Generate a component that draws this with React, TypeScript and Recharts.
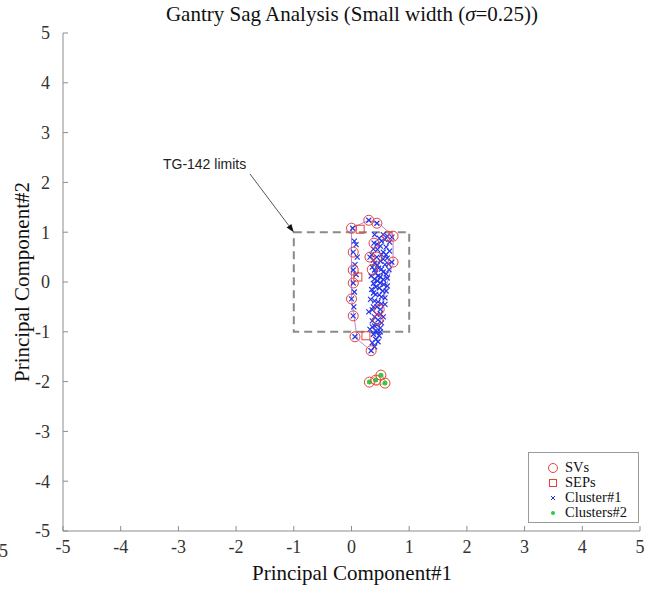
import React from "react";
import {
  ScatterChart,
  Scatter,
  XAxis,
  YAxis,
  ReferenceArea,
  ReferenceLine,
} from "recharts";

const xTicks = [-5, -4, -3, -2, -1, 0, 1, 2, 3, 4, 5];
const yTicks = [-5, -4, -3, -2, -1, 0, 1, 2, 3, 4, 5];

const supportVectors = [
  { x: 0.0, y: 1.08 }, { x: 0.3, y: 1.24 }, { x: 0.44, y: 1.18 }, { x: 0.63, y: 0.92 },
  { x: 0.72, y: 0.92 }, { x: 0.39, y: 0.78 }, { x: 0.03, y: 0.6 }, { x: 0.32, y: 0.5 },
  { x: 0.44, y: 0.5 }, { x: 0.72, y: 0.4 }, { x: 0.03, y: 0.24 }, { x: 0.36, y: 0.25 },
  { x: 0.03, y: -0.02 }, { x: 0.0, y: -0.34 }, { x: 0.03, y: -0.68 }, { x: 0.48, y: -0.55 },
  { x: 0.46, y: -0.76 }, { x: 0.06, y: -1.1 }, { x: 0.34, y: -1.38 },
  { x: 0.31, y: -2.01 }, { x: 0.42, y: -1.97 }, { x: 0.51, y: -1.87 }, { x: 0.58, y: -2.03 },
];

const seps = [
  { x: 0.15, y: 1.06 }, { x: 0.11, y: 0.1 }, { x: 0.25, y: -1.08 },
];

const cluster1 = [
  { x: 0.02, y: 1.08 }, { x: 0.05, y: 0.82 }, { x: 0.08, y: 0.75 }, { x: 0.03, y: 0.6 },
  { x: 0.06, y: 0.35 }, { x: 0.03, y: 0.24 }, { x: 0.08, y: 0.15 }, { x: 0.03, y: -0.02 },
  { x: 0.05, y: -0.2 }, { x: 0.0, y: -0.34 }, { x: 0.04, y: -0.5 }, { x: 0.03, y: -0.68 },
  { x: 0.06, y: -1.1 }, { x: 0.3, y: 1.24 }, { x: 0.44, y: 1.18 }, { x: 0.1, y: 0.5 },
  { x: 0.4, y: 0.95 }, { x: 0.55, y: 0.95 }, { x: 0.62, y: 0.92 }, { x: 0.7, y: 0.9 },
  { x: 0.48, y: 0.88 }, { x: 0.58, y: 0.85 }, { x: 0.66, y: 0.8 }, { x: 0.39, y: 0.78 },
  { x: 0.5, y: 0.72 }, { x: 0.6, y: 0.7 }, { x: 0.45, y: 0.65 }, { x: 0.55, y: 0.6 },
  { x: 0.35, y: 0.55 }, { x: 0.32, y: 0.5 }, { x: 0.44, y: 0.5 }, { x: 0.62, y: 0.48 },
  { x: 0.7, y: 0.4 }, { x: 0.5, y: 0.42 }, { x: 0.4, y: 0.38 }, { x: 0.58, y: 0.35 },
  { x: 0.36, y: 0.3 }, { x: 0.47, y: 0.28 }, { x: 0.65, y: 0.25 }, { x: 0.55, y: 0.2 },
  { x: 0.42, y: 0.18 }, { x: 0.34, y: 0.12 }, { x: 0.5, y: 0.1 }, { x: 0.62, y: 0.08 },
  { x: 0.45, y: 0.02 }, { x: 0.38, y: -0.03 }, { x: 0.56, y: -0.05 }, { x: 0.48, y: -0.12 },
  { x: 0.35, y: -0.15 }, { x: 0.6, y: -0.18 }, { x: 0.42, y: -0.25 }, { x: 0.52, y: -0.3 },
  { x: 0.33, y: -0.35 }, { x: 0.46, y: -0.4 }, { x: 0.58, y: -0.45 }, { x: 0.38, y: -0.5 },
  { x: 0.5, y: -0.55 }, { x: 0.3, y: -0.6 }, { x: 0.44, y: -0.65 }, { x: 0.55, y: -0.7 },
  { x: 0.36, y: -0.78 }, { x: 0.46, y: -0.76 }, { x: 0.4, y: -0.88 }, { x: 0.5, y: -0.92 },
  { x: 0.32, y: -0.95 }, { x: 0.45, y: -1.0 }, { x: 0.38, y: -1.05 }, { x: 0.48, y: -1.08 },
  { x: 0.42, y: -1.15 }, { x: 0.36, y: -1.22 }, { x: 0.34, y: -1.38 },
  { x: 0.52, y: 0.82 }, { x: 0.44, y: 0.76 }, { x: 0.66, y: 0.62 }, { x: 0.38, y: 0.66 },
  { x: 0.52, y: 0.55 }, { x: 0.6, y: 0.55 }, { x: 0.38, y: 0.44 }, { x: 0.55, y: 0.46 },
  { x: 0.64, y: 0.36 }, { x: 0.45, y: 0.34 }, { x: 0.52, y: 0.26 }, { x: 0.4, y: 0.24 },
  { x: 0.6, y: 0.16 }, { x: 0.46, y: 0.12 }, { x: 0.55, y: 0.05 }, { x: 0.4, y: 0.06 },
  { x: 0.5, y: -0.02 }, { x: 0.62, y: -0.08 }, { x: 0.42, y: -0.1 }, { x: 0.54, y: -0.18 },
  { x: 0.38, y: -0.22 }, { x: 0.48, y: -0.26 }, { x: 0.58, y: -0.32 }, { x: 0.4, y: -0.38 },
  { x: 0.52, y: -0.44 }, { x: 0.44, y: -0.5 }, { x: 0.36, y: -0.56 }, { x: 0.5, y: -0.64 },
  { x: 0.4, y: -0.7 }, { x: 0.52, y: -0.82 }, { x: 0.44, y: -0.86 }, { x: 0.36, y: -0.9 },
  { x: 0.5, y: -1.0 }, { x: 0.42, y: -0.98 }, { x: 0.46, y: -1.2 }, { x: 0.4, y: -1.3 },
];

const cluster2 = [
  { x: 0.31, y: -2.01 }, { x: 0.42, y: -1.97 }, { x: 0.51, y: -1.87 }, { x: 0.58, y: -2.03 },
];

// decision boundary outlines
const contourMain = [
  { x: 0.0, y: 1.08 }, { x: 0.3, y: 1.24 }, { x: 0.5, y: 1.15 }, { x: 0.72, y: 0.92 },
  { x: 0.72, y: 0.4 }, { x: 0.6, y: -0.1 }, { x: 0.5, y: -0.76 }, { x: 0.45, y: -1.2 },
  { x: 0.34, y: -1.38 }, { x: 0.1, y: -1.15 }, { x: 0.0, y: -0.34 }, { x: 0.0, y: 1.08 },
];
const contourSmall = [
  { x: 0.3, y: -2.0 }, { x: 0.4, y: -1.9 }, { x: 0.52, y: -1.84 }, { x: 0.6, y: -2.03 },
  { x: 0.45, y: -2.07 }, { x: 0.3, y: -2.0 },
];

const SERIF = "'Liberation Serif', 'Times New Roman', serif";
const RED = "#e8403a";
const BLUE = "#2433e8";
const GREEN = "#2ecc40";
const AXIS = "#8c8c8c";

const Circle = ({ cx, cy }: any) => (
  <circle cx={cx} cy={cy} r={5} fill="none" stroke={RED} strokeWidth={1} />
);
const Square = ({ cx, cy }: any) => (
  <rect x={cx - 4} y={cy - 4} width={8} height={8} fill="none" stroke={RED} strokeWidth={1} />
);
const Cross = ({ cx, cy }: any) => (
  <path d={`M${cx - 2.5},${cy - 2.5}L${cx + 2.5},${cy + 2.5}M${cx - 2.5},${cy + 2.5}L${cx + 2.5},${cy - 2.5}`} stroke={BLUE} strokeWidth={1.2} />
);
const Dot = ({ cx, cy }: any) => <circle cx={cx} cy={cy} r={2.5} fill={GREEN} />;
const NoShape = () => <g />;

const Arrow = ({ x1, y1, x2, y2 }: any) => {
  const a = Math.atan2(y2 - y1, x2 - x1);
  const L = 8, W = 3;
  const bx = x2 - L * Math.cos(a), by = y2 - L * Math.sin(a);
  const px = -Math.sin(a) * W, py = Math.cos(a) * W;
  return (
    <g>
      <line x1={x1} y1={y1} x2={bx} y2={by} stroke="#555" strokeWidth={1} />
      <polygon points={`${x2},${y2} ${bx + px},${by + py} ${bx - px},${by - py}`} fill="#111" />
      <text x={x1 - 87} y={y1 - 5} fontFamily="'Liberation Sans', Arial, sans-serif" fontSize={14} fill="#222">
        TG-142 limits
      </text>
    </g>
  );
};

const legendItems = [
  { label: "SVs", kind: "circle" },
  { label: "SEPs", kind: "square" },
  { label: "Cluster#1", kind: "cross" },
  { label: "Clusters#2", kind: "dot" },
];

function LegendSymbol({ kind }: { kind: string }) {
  return (
    <svg width={12} height={12} style={{ marginRight: 6 }}>
      {kind === "circle" && <circle cx={6} cy={6} r={4.5} fill="none" stroke={RED} />}
      {kind === "square" && <rect x={2.5} y={2.5} width={7} height={7} fill="none" stroke={RED} />}
      {kind === "cross" && <path d="M4,4L8,8M4,8L8,4" stroke={BLUE} />}
      {kind === "dot" && <circle cx={6} cy={6} r={2} fill={GREEN} />}
    </svg>
  );
}

export default function App() {
  return (
    <div style={{ position: "absolute", left: 0, top: 0, width: 653, height: 595, background: "#fff", fontFamily: SERIF }}>
      <div style={{ position: "absolute", left: 51, width: 602, top: 2, textAlign: "center", fontSize: 21, color: "#111" }}>
        Gantry Sag Analysis (Small width (<i>σ</i>=0.25))
      </div>
      <div style={{ position: "absolute", left: 51, width: 602, top: 561, textAlign: "center", fontSize: 21, color: "#111" }}>
        Principal Component#1
      </div>
      <div
        style={{
          position: "absolute", left: 22, top: 282, fontSize: 21, color: "#111", whiteSpace: "nowrap",
          transform: "translate(-50%, -50%) rotate(-90deg)",
        }}
      >
        Principal Component#2
      </div>
      <div style={{ position: "absolute", right: 645, top: 541, fontSize: 18, color: "#333" }}>-5</div>
      <ScatterChart width={653} height={595} margin={{ top: 33, right: 13, bottom: 24, left: 23 }}>
        <XAxis
          type="number"
          dataKey="x"
          domain={[-5, 5]}
          ticks={xTicks}
          height={40}
          stroke={AXIS}
          tickSize={-5}
          tickMargin={14}
          tick={{ fill: "#333", fontSize: 18, fontFamily: SERIF }}
          allowDataOverflow
        />
        <YAxis
          type="number"
          dataKey="y"
          domain={[-5, 5]}
          ticks={yTicks}
          width={40}
          stroke={AXIS}
          tickSize={-5}
          tickMargin={18}
          tick={{ fill: "#333", fontSize: 18, fontFamily: SERIF }}
          allowDataOverflow
        />
        <ReferenceArea x1={-1} x2={1} y1={-1} y2={1} fill="none" fillOpacity={0} stroke="#8a8a8a" strokeWidth={2} strokeDasharray="8 5" ifOverflow="visible" />
        <ReferenceLine segment={[{ x: -1.76, y: 2.17 }, { x: -1, y: 1 }]} shape={Arrow} ifOverflow="visible" />
        <Scatter data={contourMain} line={{ stroke: "#b98ad6", strokeWidth: 1 }} shape={NoShape} isAnimationActive={false} />
        <Scatter data={contourSmall} line={{ stroke: "#f0a860", strokeWidth: 1 }} shape={NoShape} isAnimationActive={false} />
        <Scatter data={cluster1} shape={Cross} isAnimationActive={false} />
        <Scatter data={cluster2} shape={Dot} isAnimationActive={false} />
        <Scatter data={supportVectors} shape={Circle} isAnimationActive={false} />
        <Scatter data={seps} shape={Square} isAnimationActive={false} />
      </ScatterChart>
      <div
        style={{
          position: "absolute", left: 528, top: 452, width: 111, height: 71, border: "1px solid #9a9a9a",
          background: "#fff", fontSize: 14.5, color: "#111", paddingTop: 7, boxSizing: "border-box",
        }}
      >
        {legendItems.map((it) => (
          <div key={it.label} style={{ display: "flex", alignItems: "center", height: 15, paddingLeft: 18 }}>
            <LegendSymbol kind={it.kind} />
            {it.label}
          </div>
        ))}
      </div>
    </div>
  );
}
